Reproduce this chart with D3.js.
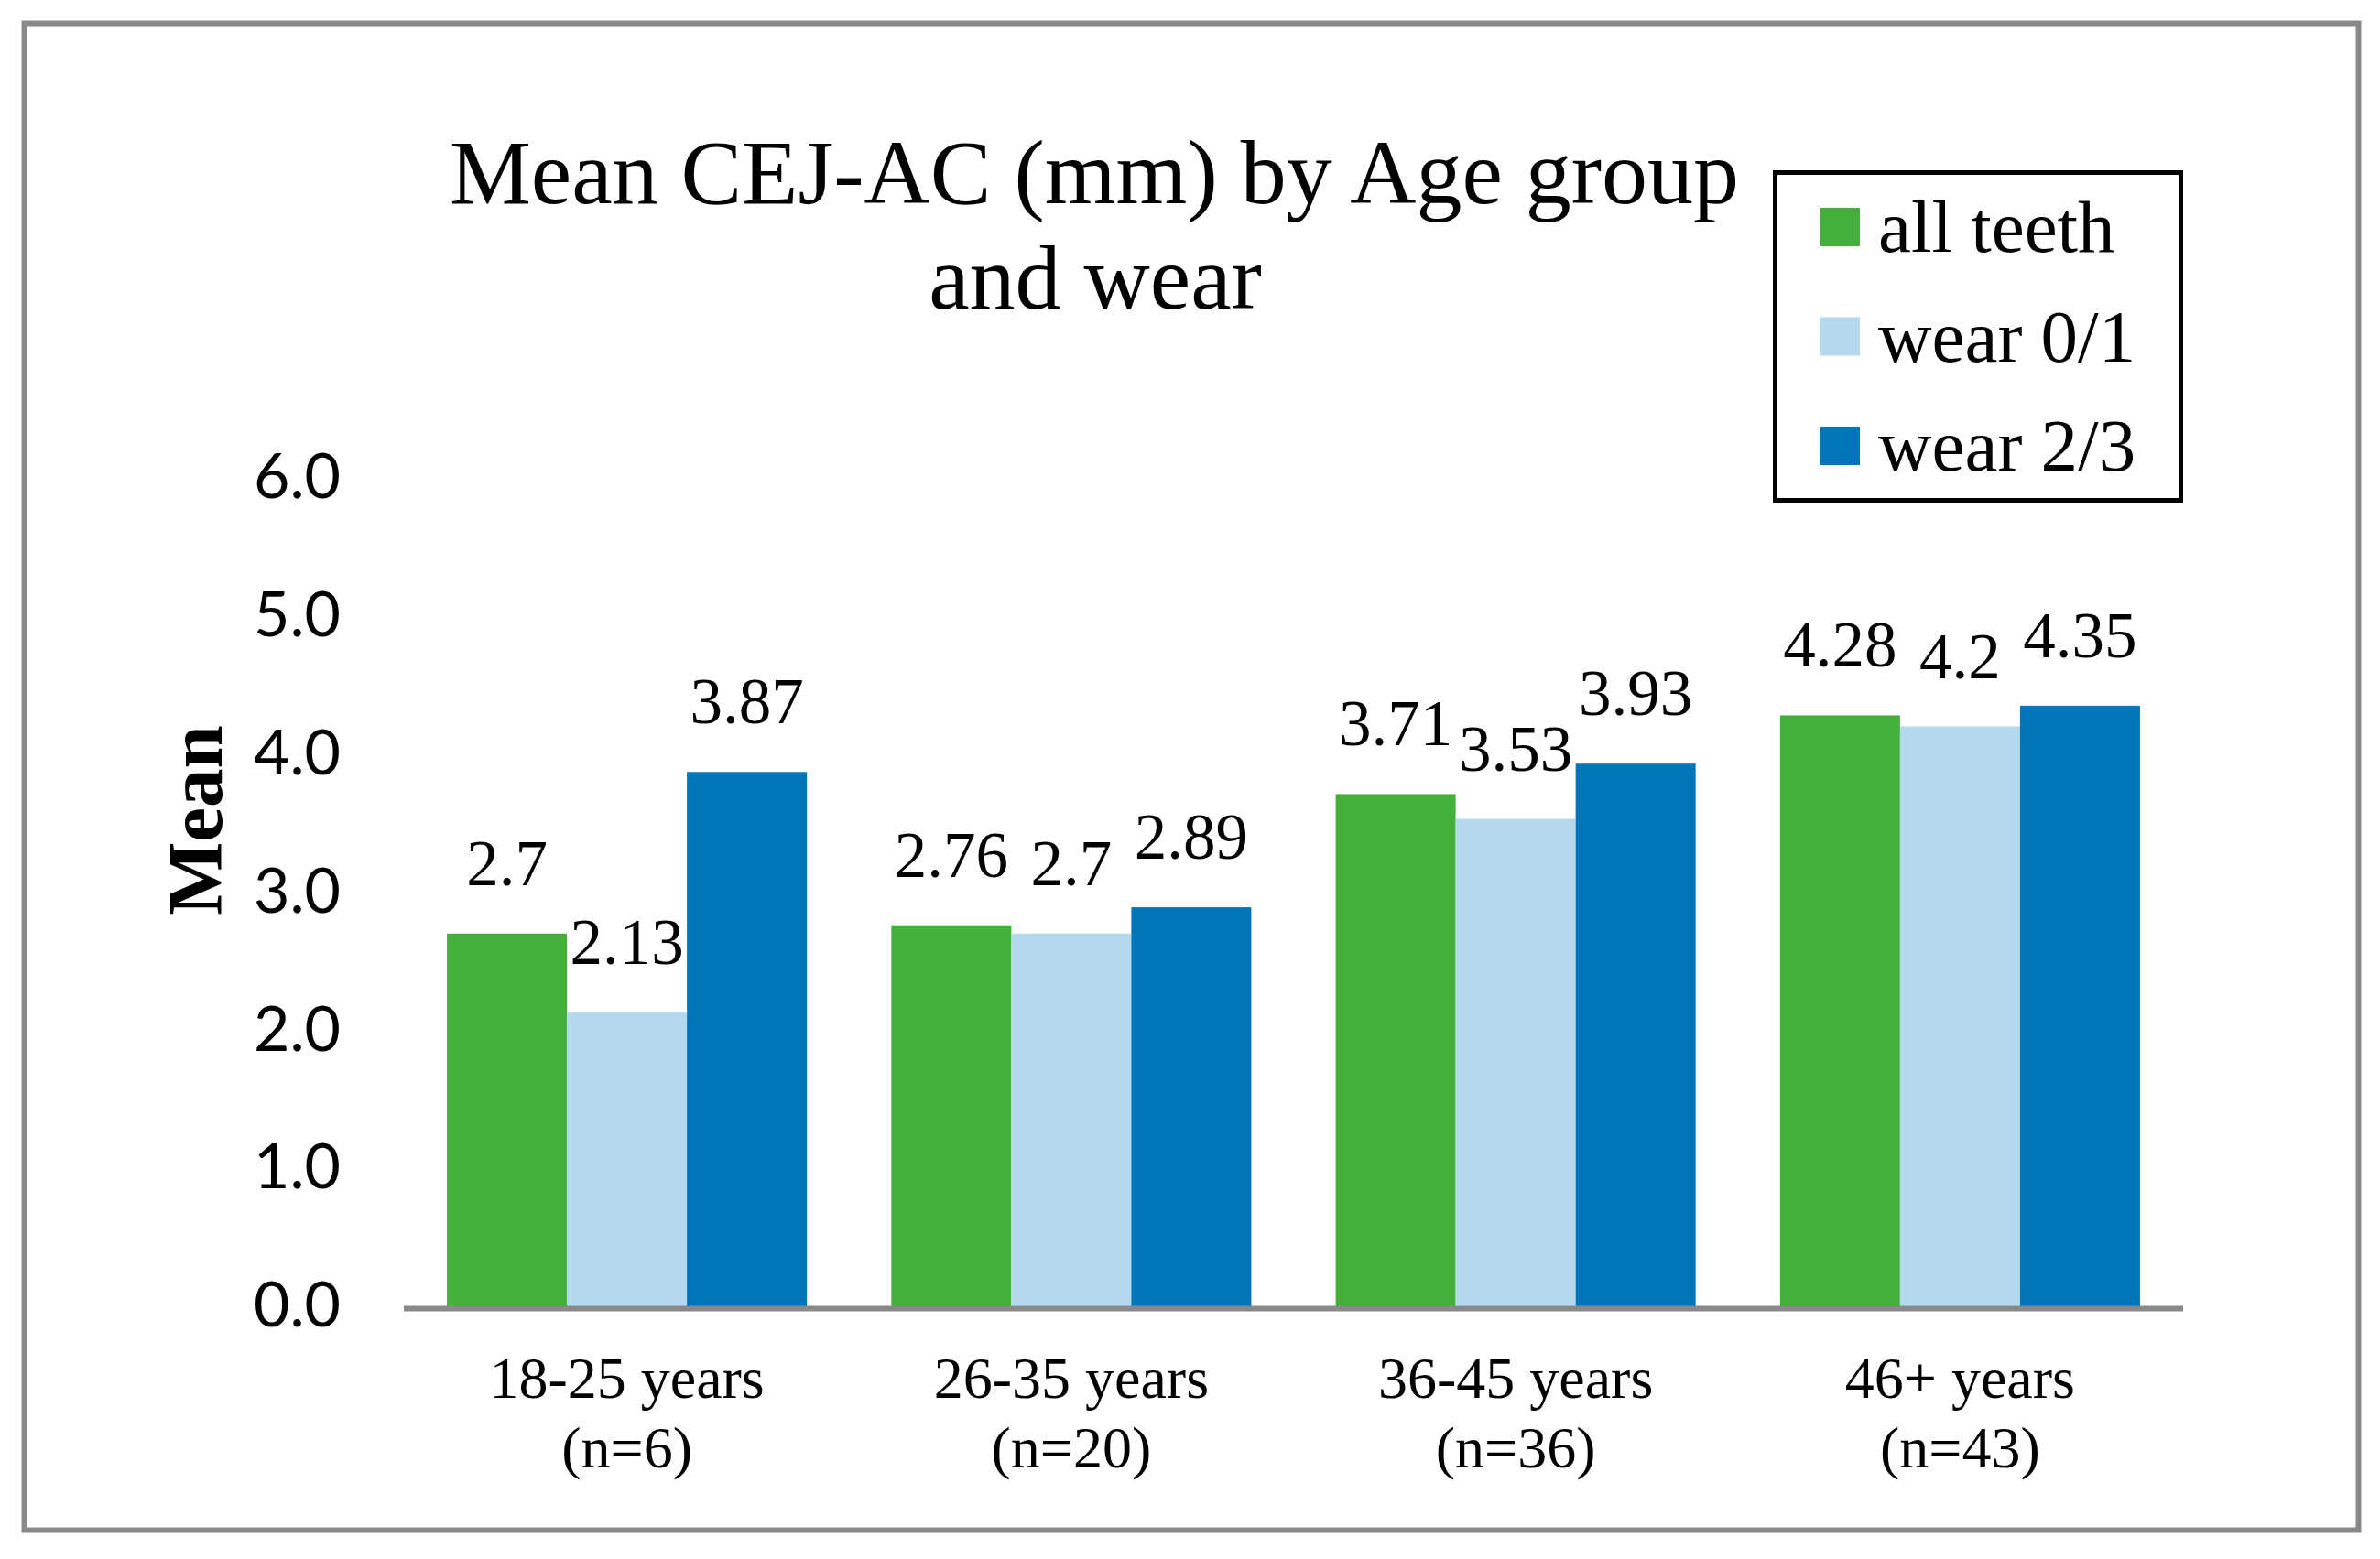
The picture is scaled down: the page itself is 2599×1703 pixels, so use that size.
<!DOCTYPE html>
<html>
<head>
<meta charset="utf-8">
<script src="https://cdn.jsdelivr.net/npm/d3@7"></script>
<style>
  body { margin: 0; background: #fff; }
  svg { display: block; }
</style>
</head>
<body>
<div id="chart"></div>
<script>
// data
const groups = ["18-25 years", "26-35 years", "36-45 years", "46+ years"]
const groupN = ["(n=6)", "(n=20)", "(n=36)", "(n=43)"]
const series = ["all teeth", "wear 0/1", "wear 2/3"]
const allTeeth = [2.7, 2.76, 3.71, 4.28]
const wear01 = [2.13, 2.7, 3.53, 4.2]
const wear23 = [3.87, 2.89, 3.93, 4.35]
const yTicks = [0, 1, 2, 3, 4, 5, 6]
const colors = ["#45af3c", "#b4d8ee", "#0075ba"]

const values = [allTeeth, wear01, wear23]

const width = 2599
const height = 1703

const svg = d3.select("#chart")
  .append("svg")
    .attr("width", width)
    .attr("height", height)

svg.append("rect")
  .attr("width", width).attr("height", height)
  .attr("fill", "#fff")

// outer frame
svg.append("rect")
  .attr("x", 26.5).attr("y", 25.5)
  .attr("width", 2549).attr("height", 1646)
  .attr("fill", "none")
  .attr("stroke", "#898989")
  .attr("stroke-width", 6)

// scales
const x0 = d3.scaleBand()
  .domain(groups)
  .range([441, 2384])
  .paddingInner(0.19)
  .paddingOuter(0.097)

const x1 = d3.scaleBand()
  .domain(series)
  .range([0, x0.bandwidth()])

const y = d3.scaleLinear()
  .domain([0, 6])
  .range([1427, 522])

// y axis labels
svg.append("g")
  .attr("transform", "translate(372,0)")
  .call(d3.axisLeft(y).tickValues(yTicks).tickSize(0).tickPadding(0).tickFormat(d3.format(".1f")))
  .call(g => g.select(".domain").remove())
  .selectAll("text")
    .attr("font-family", "Lato, 'Open Sans', sans-serif")
    .attr("font-size", 68)
    .attr("fill", "#000")

// bars
const rows = groups.map((g, i) => ({ group: g, vals: series.map((s, j) => ({ key: s, value: values[j][i], j: j })) }))

const grp = svg.append("g")
  .selectAll("g")
  .data(rows)
  .join("g")
    .attr("transform", d => "translate(" + x0(d.group) + ",0)")

grp.selectAll("rect")
  .data(d => d.vals)
  .join("rect")
    .attr("x", d => x1(d.key))
    .attr("y", d => y(d.value))
    .attr("width", x1.bandwidth())
    .attr("height", d => y(0) - y(d.value))
    .attr("fill", d => colors[d.j])

// value labels
grp.selectAll("text")
  .data(d => d.vals)
  .join("text")
    .attr("x", d => x1(d.key) + x1.bandwidth() / 2)
    .attr("y", d => y(d.value) - 53)
    .attr("text-anchor", "middle")
    .attr("font-family", "'Liberation Serif', 'Times New Roman', serif")
    .attr("font-size", 71)
    .text(d => d.value)

// x axis line
svg.append("line")
  .attr("x1", 441).attr("x2", 2384)
  .attr("y1", y(0) + 2.5).attr("y2", y(0) + 2.5)
  .attr("stroke", "#898989")
  .attr("stroke-width", 6)

// category labels
const cat = svg.append("g")
  .selectAll("text")
  .data(groups)
  .join("text")
    .attr("x", d => x0(d) + x0.bandwidth() / 2)
    .attr("text-anchor", "middle")
    .attr("font-family", "'Liberation Serif', 'Times New Roman', serif")
    .attr("font-size", 64)

cat.append("tspan")
  .attr("x", d => x0(d) + x0.bandwidth() / 2)
  .attr("y", 1527)
  .text(d => d)
cat.append("tspan")
  .attr("x", d => x0(d) + x0.bandwidth() / 2)
  .attr("y", 1603)
  .text((d, i) => groupN[i])

// y title
svg.append("text")
  .attr("transform", "translate(242,896) rotate(-90)")
  .attr("text-anchor", "middle")
  .attr("font-family", "'Liberation Serif', 'Times New Roman', serif")
  .attr("font-weight", "bold")
  .attr("font-size", 85)
  .text("Mean")

// title
const title = svg.append("text")
  .attr("text-anchor", "middle")
  .attr("font-family", "'Liberation Serif', 'Times New Roman', serif")
  .attr("font-size", 100)
title.append("tspan").attr("x", 1195).attr("y", 222).text("Mean CEJ-AC (mm) by Age group")
title.append("tspan").attr("x", 1196).attr("y", 337).text("and wear")

// legend
svg.append("rect")
  .attr("x", 1938.5).attr("y", 188.5)
  .attr("width", 443).attr("height", 358)
  .attr("fill", "#fff")
  .attr("stroke", "#000")
  .attr("stroke-width", 5)

const leg = svg.append("g")
  .selectAll("g")
  .data(series)
  .join("g")
    .attr("transform", (d, i) => "translate(0," + (i * 119.5) + ")")

leg.append("rect")
  .attr("x", 1988).attr("y", 227)
  .attr("width", 43).attr("height", 42)
  .attr("fill", (d, i) => colors[i])

leg.append("text")
  .attr("x", 2051).attr("y", 275)
  .attr("font-family", "'Liberation Serif', 'Times New Roman', serif")
  .attr("font-size", 81)
  .text(d => d)
</script>
</body>
</html>
